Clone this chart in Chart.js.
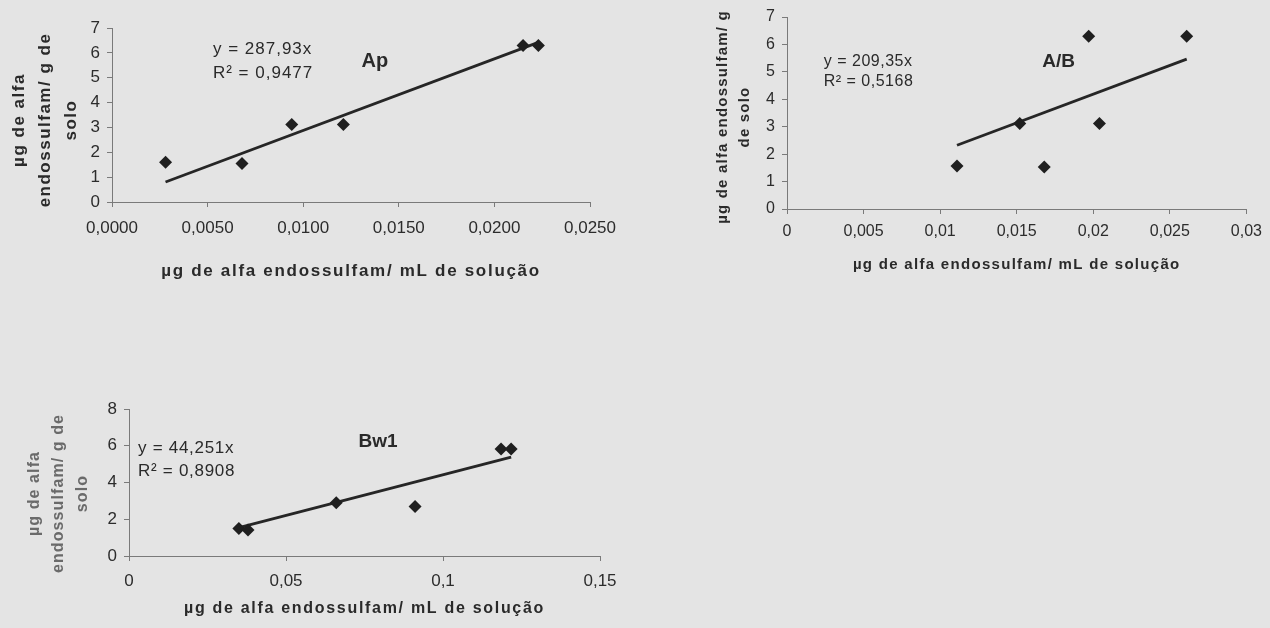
<!DOCTYPE html>
<html>
<head>
<meta charset="utf-8">
<script src="https://cdn.jsdelivr.net/npm/chart.js@4.4.1/dist/chart.umd.min.js"></script>
<style>
  body { margin: 0; background: #e4e4e4; width: 1270px; height: 628px; overflow: hidden; position: relative; }
  canvas { position: absolute; }
</style>
</head>
<body>
<canvas id="ap" width="640" height="300" style="left:0;top:0"></canvas>
<canvas id="ab" width="630" height="300" style="left:640px;top:0"></canvas>
<canvas id="bw" width="640" height="248" style="left:0;top:380px"></canvas>
<script>
// horizonte Ap
const apX = [0.0028, 0.0068, 0.0094, 0.0121, 0.0215, 0.0223];
const apY = [1.6, 1.55, 3.12, 3.12, 6.3, 6.3];
const apSlope = 287.93;
const apTicks = ["0,0000", "0,0050", "0,0100", "0,0150", "0,0200", "0,0250"];

// horizonte A/B
const abX = [0.0111, 0.0152, 0.0168, 0.0197, 0.0204, 0.0261];
const abY = [1.57, 3.12, 1.53, 6.3, 3.12, 6.3];
const abSlope = 209.35;
const abTicks = ["0", "0,005", "0,01", "0,015", "0,02", "0,025", "0,03"];

// horizonte Bw1
const bwX = [0.035, 0.0379, 0.066, 0.0911, 0.1185, 0.1217];
const bwY = [1.5, 1.42, 2.9, 2.69, 5.82, 5.82];
const bwSlope = 44.251;
const bwTicks = ["0", "0,05", "0,1", "0,15"];

const xTitle = "µg de alfa endossulfam/ mL de solução";

const notesPlugin = {
  id: "notes",
  beforeDraw(chart, args, o) {
    chart.ctx.letterSpacing = o.tickSpacing || "0px";
  },
  afterDraw(chart, args, o) {
    const ctx = chart.ctx;
    const xs = chart.scales.x, ys = chart.scales.y;
    const area = chart.chartArea;
    ctx.save();
    ctx.textBaseline = "middle";

    // y title, rotated lines
    ctx.font = o.yTitle.font;
    ctx.letterSpacing = o.yTitle.spacing;
    ctx.fillStyle = o.yTitle.color;
    ctx.textAlign = "center";
    const cy = (area.top + area.bottom) / 2 + (o.yTitle.shift || 0);
    o.yTitle.lines.forEach((line, i) => {
      ctx.save();
      ctx.translate(o.yTitle.x + i * o.yTitle.gap, cy);
      ctx.rotate(-Math.PI / 2);
      ctx.fillText(line, 0, 0);
      ctx.restore();
    });

    // x title
    ctx.font = o.xTitle.font;
    ctx.letterSpacing = o.xTitle.spacing;
    ctx.fillStyle = "#2a2a2a";
    ctx.fillText(xTitle, (area.left + area.right) / 2, o.xTitle.y);

    // equation and R2
    ctx.font = o.eq.font;
    ctx.letterSpacing = o.eq.spacing;
    ctx.textAlign = "left";
    ctx.fillText(o.eq.lines[0], xs.getPixelForValue(o.eq.at[0]), ys.getPixelForValue(o.eq.at[1]));
    ctx.fillText(o.eq.lines[1], xs.getPixelForValue(o.eq.at[0]), ys.getPixelForValue(o.eq.at[2]));

    // horizon name
    ctx.font = o.name.font;
    ctx.letterSpacing = "0px";
    ctx.textAlign = "center";
    ctx.fillText(o.name.text, xs.getPixelForValue(o.name.at[0]), ys.getPixelForValue(o.name.at[1]));
    ctx.restore();
  }
};

function trend(xv, slope) {
  const lo = Math.min(...xv), hi = Math.max(...xv);
  return [{ x: lo, y: slope * lo }, { x: hi, y: slope * hi }];
}

function makeChart(id, cfg) {
  const pts = cfg.x.map((v, i) => ({ x: v, y: cfg.y[i] }));
  return new Chart(document.getElementById(id), {
    type: "scatter",
    data: {
      datasets: [
        {
          data: pts,
          pointStyle: "rectRot",
          pointRadius: 6.5,
          backgroundColor: "#1f1f1f",
          borderWidth: 0,
        },
        {
          data: trend(cfg.x, cfg.slope),
          showLine: true,
          pointRadius: 0,
          borderColor: "#262626",
          borderWidth: 2.8,
        },
      ],
    },
    options: {
      responsive: false,
      animation: false,
      layout: { padding: cfg.padding },
      plugins: {
        legend: { display: false },
        tooltip: { enabled: false },
        notes: cfg.notes,
      },
      scales: {
        x: {
          type: "linear",
          min: 0,
          max: cfg.xMax,
          ticks: {
            stepSize: cfg.xStep,
            color: "#2c2c2c",
            font: { family: "Liberation Sans", size: cfg.tickSize },
            padding: cfg.xPad,
            maxRotation: 0,
            autoSkip: false,
            callback: (v, i) => cfg.xTicks[i],
          },
          grid: { drawOnChartArea: false, tickLength: 5, color: "#7a7a7a" },
          border: { color: "#7a7a7a" },
          afterFit: (s) => { s.height = cfg.xHeight; },
        },
        y: {
          min: 0,
          max: cfg.yMax,
          ticks: {
            stepSize: cfg.yStep,
            color: "#2c2c2c",
            font: { family: "Liberation Sans", size: cfg.tickSize },
            padding: 7,
          },
          grid: { drawOnChartArea: false, tickLength: 5, color: "#7a7a7a" },
          border: { color: "#7a7a7a" },
          afterFit: (s) => { s.width = cfg.yWidth; },
        },
      },
    },
    plugins: [notesPlugin],
  });
}

makeChart("ap", {
  x: apX, y: apY, slope: apSlope, xTicks: apTicks,
  xMax: 0.025, xStep: 0.005, yMax: 7, yStep: 1,
  tickSize: 17, xPad: 11, xHeight: 98, yWidth: 112,
  padding: { top: 28, right: 50, bottom: 0, left: 0 },
  notes: {
    tickSpacing: "0px",
    yTitle: { lines: ["µg de alfa", "endossulfam/ g de", "solo"], x: 19, gap: 26, font: "bold 17px 'Liberation Sans'", spacing: "1.5px", color: "#2a2a2a", shift: 5 },
    xTitle: { y: 271, font: "bold 17px 'Liberation Sans'", spacing: "1.7px" },
    eq: { lines: ["y = 287,93x", "R² = 0,9477"], at: [0.00528, 6.16, 5.16], font: "17px 'Liberation Sans'", spacing: "1px" },
    name: { text: "Ap", at: [0.01375, 5.64], font: "bold 20px 'Liberation Sans'" },
  },
});

makeChart("ab", {
  x: abX, y: abY, slope: abSlope, xTicks: abTicks,
  xMax: 0.03, xStep: 0.005, yMax: 7, yStep: 1,
  tickSize: 16, xPad: 8, xHeight: 91, yWidth: 147,
  padding: { top: 17, right: 18, bottom: 0, left: 0 },
  notes: {
    tickSpacing: "0px",
    yTitle: { lines: ["µg de alfa endossulfam/ g", "de solo"], x: 83, gap: 22, font: "bold 15px 'Liberation Sans'", spacing: "1.2px", color: "#2a2a2a", shift: 4 },
    xTitle: { y: 265, font: "bold 15px 'Liberation Sans'", spacing: "1.3px" },
    eq: { lines: ["y = 209,35x", "R² = 0,5168"], at: [0.0024, 5.36, 4.64], font: "16px 'Liberation Sans'", spacing: "0.5px" },
    name: { text: "A/B", at: [0.01774, 5.36], font: "bold 19px 'Liberation Sans'" },
  },
});

makeChart("bw", {
  x: bwX, y: bwY, slope: bwSlope, xTicks: bwTicks,
  xMax: 0.15, xStep: 0.05, yMax: 8, yStep: 2,
  tickSize: 17, xPad: 10, xHeight: 72, yWidth: 129,
  padding: { top: 29, right: 40, bottom: 0, left: 0 },
  notes: {
    tickSpacing: "0px",
    yTitle: { lines: ["µg de alfa", "endossulfam/ g de", "solo"], x: 35, gap: 24, font: "bold 16px 'Liberation Sans'", spacing: "1.1px", color: "#6a6a6a", shift: 11 },
    xTitle: { y: 229, font: "bold 16px 'Liberation Sans'", spacing: "1.7px" },
    eq: { lines: ["y = 44,251x", "R² = 0,8908"], at: [0.0029, 5.87, 4.63], font: "17px 'Liberation Sans'", spacing: "0.7px" },
    name: { text: "Bw1", at: [0.0793, 6.2], font: "bold 19px 'Liberation Sans'" },
  },
});
</script>
</body>
</html>
